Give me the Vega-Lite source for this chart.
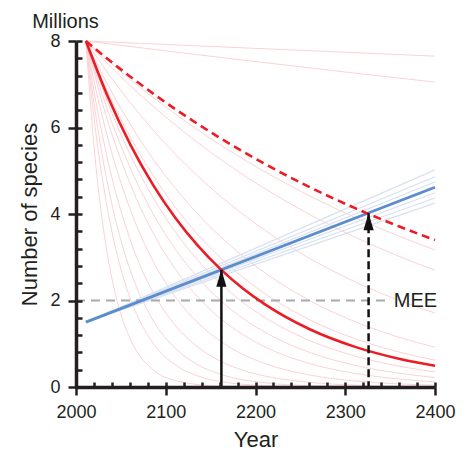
{
  "$schema": "https://vega.github.io/schema/vega-lite/v6.json",
  "width": 359,
  "height": 346,
  "autosize": "none",
  "padding": {"left": 76, "top": 41, "right": 33, "bottom": 64},
  "background": "white",
  "datasets": {
    "curves": [
      {"g":"pink","s":"p1","x":2011,"y":8},{"g":"pink","s":"p1","x":2211,"y":7.82},{"g":"pink","s":"p1","x":2400,"y":7.65},
      {"g":"pink","s":"p2","x":2011,"y":8},{"g":"pink","s":"p2","x":2111,"y":7.744},{"g":"pink","s":"p2","x":2211,"y":7.497},{"g":"pink","s":"p2","x":2311,"y":7.257},{"g":"pink","s":"p2","x":2400,"y":7.05},
      {"g":"pink","s":"p3","x":2011,"y":8},{"g":"pink","s":"p3","x":2036,"y":7.538},{"g":"pink","s":"p3","x":2061,"y":7.102},{"g":"pink","s":"p3","x":2086,"y":6.692},{"g":"pink","s":"p3","x":2111,"y":6.306},{"g":"pink","s":"p3","x":2136,"y":5.941},{"g":"pink","s":"p3","x":2161,"y":5.598},{"g":"pink","s":"p3","x":2186,"y":5.275},{"g":"pink","s":"p3","x":2211,"y":4.97},{"g":"pink","s":"p3","x":2261,"y":4.413},{"g":"pink","s":"p3","x":2311,"y":3.918},{"g":"pink","s":"p3","x":2361,"y":3.478},{"g":"pink","s":"p3","x":2400,"y":3.17},
      {"g":"pink","s":"p4","x":2011,"y":8},{"g":"pink","s":"p4","x":2036,"y":7.461},{"g":"pink","s":"p4","x":2061,"y":6.958},{"g":"pink","s":"p4","x":2086,"y":6.49},{"g":"pink","s":"p4","x":2111,"y":6.052},{"g":"pink","s":"p4","x":2136,"y":5.645},{"g":"pink","s":"p4","x":2161,"y":5.264},{"g":"pink","s":"p4","x":2186,"y":4.91},{"g":"pink","s":"p4","x":2211,"y":4.579},{"g":"pink","s":"p4","x":2261,"y":3.983},{"g":"pink","s":"p4","x":2311,"y":3.464},{"g":"pink","s":"p4","x":2361,"y":3.013},{"g":"pink","s":"p4","x":2400,"y":2.7},
      {"g":"pink","s":"p5","x":2011,"y":8},{"g":"pink","s":"p5","x":2036,"y":7.244},{"g":"pink","s":"p5","x":2061,"y":6.56},{"g":"pink","s":"p5","x":2086,"y":5.94},{"g":"pink","s":"p5","x":2111,"y":5.379},{"g":"pink","s":"p5","x":2136,"y":4.87},{"g":"pink","s":"p5","x":2161,"y":4.41},{"g":"pink","s":"p5","x":2186,"y":3.993},{"g":"pink","s":"p5","x":2211,"y":3.616},{"g":"pink","s":"p5","x":2261,"y":2.965},{"g":"pink","s":"p5","x":2311,"y":2.431},{"g":"pink","s":"p5","x":2361,"y":1.993},{"g":"pink","s":"p5","x":2400,"y":1.71},
      {"g":"pink","s":"p6","x":2011,"y":8},{"g":"pink","s":"p6","x":2036,"y":6.962},{"g":"pink","s":"p6","x":2061,"y":6.058},{"g":"pink","s":"p6","x":2086,"y":5.272},{"g":"pink","s":"p6","x":2111,"y":4.588},{"g":"pink","s":"p6","x":2136,"y":3.993},{"g":"pink","s":"p6","x":2161,"y":3.474},{"g":"pink","s":"p6","x":2186,"y":3.024},{"g":"pink","s":"p6","x":2211,"y":2.631},{"g":"pink","s":"p6","x":2261,"y":1.993},{"g":"pink","s":"p6","x":2311,"y":1.509},{"g":"pink","s":"p6","x":2361,"y":1.143},{"g":"pink","s":"p6","x":2400,"y":0.92},
      {"g":"pink","s":"p7","x":2011,"y":8},{"g":"pink","s":"p7","x":2036,"y":6.788},{"g":"pink","s":"p7","x":2061,"y":5.76},{"g":"pink","s":"p7","x":2086,"y":4.887},{"g":"pink","s":"p7","x":2111,"y":4.147},{"g":"pink","s":"p7","x":2136,"y":3.519},{"g":"pink","s":"p7","x":2161,"y":2.986},{"g":"pink","s":"p7","x":2186,"y":2.534},{"g":"pink","s":"p7","x":2211,"y":2.15},{"g":"pink","s":"p7","x":2261,"y":1.548},{"g":"pink","s":"p7","x":2311,"y":1.115},{"g":"pink","s":"p7","x":2361,"y":0.802},{"g":"pink","s":"p7","x":2400,"y":0.62},
      {"g":"pink","s":"p8","x":2011,"y":8},{"g":"pink","s":"p8","x":2036,"y":6.542},{"g":"pink","s":"p8","x":2061,"y":5.349},{"g":"pink","s":"p8","x":2086,"y":4.374},{"g":"pink","s":"p8","x":2111,"y":3.577},{"g":"pink","s":"p8","x":2136,"y":2.925},{"g":"pink","s":"p8","x":2161,"y":2.392},{"g":"pink","s":"p8","x":2186,"y":1.956},{"g":"pink","s":"p8","x":2211,"y":1.599},{"g":"pink","s":"p8","x":2261,"y":1.069},{"g":"pink","s":"p8","x":2311,"y":0.715},{"g":"pink","s":"p8","x":2361,"y":0.478},{"g":"pink","s":"p8","x":2400,"y":0.35},
      {"g":"pink","s":"p9","x":2011,"y":8},{"g":"pink","s":"p9","x":2036,"y":6.35},{"g":"pink","s":"p9","x":2061,"y":5.04},{"g":"pink","s":"p9","x":2086,"y":4.001},{"g":"pink","s":"p9","x":2111,"y":3.175},{"g":"pink","s":"p9","x":2136,"y":2.521},{"g":"pink","s":"p9","x":2161,"y":2.001},{"g":"pink","s":"p9","x":2186,"y":1.588},{"g":"pink","s":"p9","x":2211,"y":1.261},{"g":"pink","s":"p9","x":2261,"y":0.794},{"g":"pink","s":"p9","x":2311,"y":0.5},{"g":"pink","s":"p9","x":2361,"y":0.315},{"g":"pink","s":"p9","x":2400,"y":0.22},
      {"g":"pink","s":"p10","x":2011,"y":8},{"g":"pink","s":"p10","x":2036,"y":6.107},{"g":"pink","s":"p10","x":2061,"y":4.662},{"g":"pink","s":"p10","x":2086,"y":3.559},{"g":"pink","s":"p10","x":2111,"y":2.717},{"g":"pink","s":"p10","x":2136,"y":2.074},{"g":"pink","s":"p10","x":2161,"y":1.583},{"g":"pink","s":"p10","x":2186,"y":1.209},{"g":"pink","s":"p10","x":2211,"y":0.922},{"g":"pink","s":"p10","x":2261,"y":0.538},{"g":"pink","s":"p10","x":2311,"y":0.313},{"g":"pink","s":"p10","x":2361,"y":0.183},{"g":"pink","s":"p10","x":2400,"y":0.12},
      {"g":"pink","s":"p11","x":2011,"y":8},{"g":"pink","s":"p11","x":2021,"y":6.99},{"g":"pink","s":"p11","x":2036,"y":5.709},{"g":"pink","s":"p11","x":2061,"y":4.073},{"g":"pink","s":"p11","x":2086,"y":2.906},{"g":"pink","s":"p11","x":2111,"y":2.074},{"g":"pink","s":"p11","x":2136,"y":1.48},{"g":"pink","s":"p11","x":2161,"y":1.056},{"g":"pink","s":"p11","x":2186,"y":0.753},{"g":"pink","s":"p11","x":2211,"y":0.538},{"g":"pink","s":"p11","x":2261,"y":0.274},{"g":"pink","s":"p11","x":2311,"y":0.139},{"g":"pink","s":"p11","x":2361,"y":0.071},{"g":"pink","s":"p11","x":2400,"y":0.042},
      {"g":"pink","s":"p12","x":2011,"y":8},{"g":"pink","s":"p12","x":2021,"y":6.729},{"g":"pink","s":"p12","x":2036,"y":5.191},{"g":"pink","s":"p12","x":2061,"y":3.369},{"g":"pink","s":"p12","x":2086,"y":2.186},{"g":"pink","s":"p12","x":2111,"y":1.418},{"g":"pink","s":"p12","x":2136,"y":0.92},{"g":"pink","s":"p12","x":2161,"y":0.597},{"g":"pink","s":"p12","x":2186,"y":0.387},{"g":"pink","s":"p12","x":2211,"y":0.251},{"g":"pink","s":"p12","x":2261,"y":0.106},{"g":"pink","s":"p12","x":2311,"y":0.044},{"g":"pink","s":"p12","x":2361,"y":0.019},{"g":"pink","s":"p12","x":2400,"y":0.01},
      {"g":"pink","s":"p13","x":2011,"y":8},{"g":"pink","s":"p13","x":2021,"y":6.071},{"g":"pink","s":"p13","x":2031,"y":4.606},{"g":"pink","s":"p13","x":2041,"y":3.495},{"g":"pink","s":"p13","x":2051,"y":2.652},{"g":"pink","s":"p13","x":2061,"y":2.013},{"g":"pink","s":"p13","x":2086,"y":1.01},{"g":"pink","s":"p13","x":2111,"y":0.507},{"g":"pink","s":"p13","x":2136,"y":0.254},{"g":"pink","s":"p13","x":2161,"y":0.127},{"g":"pink","s":"p13","x":2211,"y":0.032},{"g":"pink","s":"p13","x":2261,"y":0.008},{"g":"pink","s":"p13","x":2400,"y":0},
      {"g":"pink","s":"p14","x":2011,"y":8},{"g":"pink","s":"p14","x":2021,"y":6.42},{"g":"pink","s":"p14","x":2031,"y":5.152},{"g":"pink","s":"p14","x":2041,"y":4.135},{"g":"pink","s":"p14","x":2051,"y":3.318},{"g":"pink","s":"p14","x":2061,"y":2.663},{"g":"pink","s":"p14","x":2086,"y":1.536},{"g":"pink","s":"p14","x":2111,"y":0.886},{"g":"pink","s":"p14","x":2136,"y":0.511},{"g":"pink","s":"p14","x":2161,"y":0.295},{"g":"pink","s":"p14","x":2211,"y":0.098},{"g":"pink","s":"p14","x":2261,"y":0.033},{"g":"pink","s":"p14","x":2400,"y":0.002},
      {"g":"pink","s":"p15","x":2011,"y":8},{"g":"pink","s":"p15","x":2021,"y":5.363},{"g":"pink","s":"p15","x":2031,"y":3.595},{"g":"pink","s":"p15","x":2041,"y":2.41},{"g":"pink","s":"p15","x":2051,"y":1.615},{"g":"pink","s":"p15","x":2061,"y":1.083},{"g":"pink","s":"p15","x":2086,"y":0.398},{"g":"pink","s":"p15","x":2111,"y":0.147},{"g":"pink","s":"p15","x":2161,"y":0.02},{"g":"pink","s":"p15","x":2400,"y":0},
      {"g":"blue","s":"b1","x":2011,"y":1.5},{"g":"blue","s":"b1","x":2400,"y":5.02},
      {"g":"blue","s":"b2","x":2011,"y":1.5},{"g":"blue","s":"b2","x":2400,"y":4.86},
      {"g":"blue","s":"b3","x":2011,"y":1.5},{"g":"blue","s":"b3","x":2400,"y":4.74},
      {"g":"blue","s":"b4","x":2011,"y":1.5},{"g":"blue","s":"b4","x":2400,"y":4.49},
      {"g":"blue","s":"b5","x":2011,"y":1.5},{"g":"blue","s":"b5","x":2400,"y":4.37},
      {"g":"blue","s":"b6","x":2011,"y":1.5},{"g":"blue","s":"b6","x":2400,"y":4.25},
      {"g":"blueMain","s":"b0","x":2011,"y":1.5},{"g":"blueMain","s":"b0","x":2400,"y":4.62},
      {"g":"redSolid","s":"rs","x":2011,"y":8},{"g":"redSolid","s":"rs","x":2036,"y":6.686},{"g":"redSolid","s":"rs","x":2061,"y":5.587},{"g":"redSolid","s":"rs","x":2086,"y":4.669},{"g":"redSolid","s":"rs","x":2111,"y":3.902},{"g":"redSolid","s":"rs","x":2136,"y":3.261},{"g":"redSolid","s":"rs","x":2161,"y":2.725},{"g":"redSolid","s":"rs","x":2186,"y":2.277},{"g":"redSolid","s":"rs","x":2211,"y":1.903},{"g":"redSolid","s":"rs","x":2261,"y":1.329},{"g":"redSolid","s":"rs","x":2311,"y":0.928},{"g":"redSolid","s":"rs","x":2361,"y":0.648},{"g":"redSolid","s":"rs","x":2400,"y":0.49},
      {"g":"redDashed","s":"rd","x":2011,"y":8},{"g":"redDashed","s":"rd","x":2036,"y":7.572},{"g":"redDashed","s":"rd","x":2061,"y":7.167},{"g":"redDashed","s":"rd","x":2086,"y":6.783},{"g":"redDashed","s":"rd","x":2111,"y":6.42},{"g":"redDashed","s":"rd","x":2136,"y":6.077},{"g":"redDashed","s":"rd","x":2161,"y":5.751},{"g":"redDashed","s":"rd","x":2186,"y":5.444},{"g":"redDashed","s":"rd","x":2211,"y":5.152},{"g":"redDashed","s":"rd","x":2261,"y":4.615},{"g":"redDashed","s":"rd","x":2311,"y":4.135},{"g":"redDashed","s":"rd","x":2361,"y":3.704},{"g":"redDashed","s":"rd","x":2400,"y":3.399}
    ],
    "arrows": [
      {"k":"solid","x":2162,"y":2.71},
      {"k":"dashed","x":2326,"y":4.02}
    ],
    "mee": [
      {"label":"MEE","x":2000,"x2":2351,"y":2,"tx":2354}
    ]
  },
  "resolve": {"axis": {"x": "independent", "y": "independent"}},
  "layer": [
    {
      "data": {"name": "curves"},
      "transform": [{"filter": "datum.g === 'pink'"}],
      "mark": {"type": "line", "interpolate": "monotone", "stroke": "#fad3d6", "strokeWidth": 1},
      "encoding": {
        "x": {"field": "x", "type": "quantitative", "scale": {"domain": [2000, 2400], "nice": false, "zero": false},
          "axis": {"title": "Year", "values": [2000, 2100, 2200, 2300, 2400], "format": "d", "orient": "bottom", "tickSize": 8, "tickWidth": 2.5, "domainWidth": 3.5, "labelFontSize": 18, "labelPadding": 8, "titleFontSize": 22, "titlePadding": 8, "zindex": 1, "labelFlush": false}},
        "y": {"field": "y", "type": "quantitative", "scale": {"domain": [0, 8], "nice": false, "zero": true},
          "axis": {"title": "Number of species", "values": [0, 2, 4, 6, 8], "orient": "left", "tickSize": 8, "tickWidth": 2.5, "domainWidth": 3.5, "labelFontSize": 18, "labelPadding": 8, "titleFontSize": 22, "titlePadding": 8, "zindex": 1, "labelFlush": false}},
        "detail": {"field": "s"}
      }
    },
    {
      "data": {"name": "curves"},
      "transform": [{"filter": "datum.g === 'blue'"}],
      "mark": {"type": "line", "stroke": "#d8e1f1", "strokeWidth": 1.2},
      "encoding": {
        "x": {"field": "x", "type": "quantitative", "scale": {"domain": [2000, 2400], "nice": false, "zero": false},
          "axis": {"title": null, "orient": "bottom", "values": [2000, 2020, 2040, 2060, 2080, 2100, 2120, 2140, 2160, 2180, 2200, 2220, 2240, 2260, 2280, 2300, 2320, 2340, 2360, 2380, 2400], "tickSize": -5, "tickWidth": 2.5, "labels": false, "domain": false, "zindex": 1}},
        "y": {"field": "y", "type": "quantitative", "scale": {"domain": [0, 8], "nice": false},
          "axis": {"title": "Millions", "orient": "left", "values": [0, 0.4, 0.8, 1.2, 1.6, 2, 2.4, 2.8, 3.2, 3.6, 4, 4.4, 4.8, 5.2, 5.6, 6, 6.4, 6.8, 7.2, 7.6, 8], "tickSize": -6, "tickWidth": 2.5, "labels": false, "domain": false, "zindex": 1, "titleAngle": 0, "titleX": -11, "titleY": -14, "titleAlign": "center", "titleBaseline": "alphabetic", "titleFontSize": 20}},
        "detail": {"field": "s"}
      }
    },
    {
      "data": {"name": "mee"},
      "mark": {"type": "rule", "stroke": "#a7a9ac", "strokeWidth": 2.2, "strokeDash": [9, 6]},
      "encoding": {
        "x": {"field": "x", "type": "quantitative", "scale": {"domain": [2000, 2400], "nice": false, "zero": false}, "axis": null},
        "x2": {"field": "x2"},
        "y": {"field": "y", "type": "quantitative", "scale": {"domain": [0, 8], "nice": false}, "axis": null}
      }
    },
    {
      "data": {"name": "mee"},
      "mark": {"type": "text", "align": "left", "baseline": "middle", "fontSize": 20, "font": "Liberation Sans", "color": "#231f20"},
      "encoding": {
        "x": {"field": "tx", "type": "quantitative", "scale": {"domain": [2000, 2400], "nice": false, "zero": false}, "axis": null},
        "y": {"field": "y", "type": "quantitative", "scale": {"domain": [0, 8], "nice": false}, "axis": null},
        "text": {"field": "label"}
      }
    },
    {
      "data": {"name": "curves"},
      "transform": [{"filter": "datum.g === 'blueMain'"}],
      "mark": {"type": "line", "stroke": "#5b8dcc", "strokeWidth": 2.8},
      "encoding": {
        "x": {"field": "x", "type": "quantitative", "scale": {"domain": [2000, 2400], "nice": false, "zero": false}, "axis": null},
        "y": {"field": "y", "type": "quantitative", "scale": {"domain": [0, 8], "nice": false}, "axis": null}
      }
    },
    {
      "data": {"name": "curves"},
      "transform": [{"filter": "datum.g === 'redSolid'"}],
      "mark": {"type": "line", "interpolate": "monotone", "stroke": "#ed1c24", "strokeWidth": 2.6},
      "encoding": {
        "x": {"field": "x", "type": "quantitative", "scale": {"domain": [2000, 2400], "nice": false, "zero": false}, "axis": null},
        "y": {"field": "y", "type": "quantitative", "scale": {"domain": [0, 8], "nice": false}, "axis": null}
      }
    },
    {
      "data": {"name": "curves"},
      "transform": [{"filter": "datum.g === 'redDashed'"}],
      "mark": {"type": "line", "interpolate": "monotone", "stroke": "#ed1c24", "strokeWidth": 2.6, "strokeDash": [8, 5]},
      "encoding": {
        "x": {"field": "x", "type": "quantitative", "scale": {"domain": [2000, 2400], "nice": false, "zero": false}, "axis": null},
        "y": {"field": "y", "type": "quantitative", "scale": {"domain": [0, 8], "nice": false}, "axis": null}
      }
    },
    {
      "data": {"name": "arrows"},
      "transform": [{"filter": "datum.k === 'solid'"}],
      "mark": {"type": "rule", "stroke": "#111111", "strokeWidth": 2.5},
      "encoding": {
        "x": {"field": "x", "type": "quantitative", "scale": {"domain": [2000, 2400], "nice": false, "zero": false}, "axis": null},
        "y": {"field": "y", "type": "quantitative", "scale": {"domain": [0, 8], "nice": false}, "axis": null},
        "y2": {"datum": 0}
      }
    },
    {
      "data": {"name": "arrows"},
      "transform": [{"filter": "datum.k === 'dashed'"}],
      "mark": {"type": "rule", "stroke": "#111111", "strokeWidth": 2.5, "strokeDash": [8, 4]},
      "encoding": {
        "x": {"field": "x", "type": "quantitative", "scale": {"domain": [2000, 2400], "nice": false, "zero": false}, "axis": null},
        "y": {"field": "y", "type": "quantitative", "scale": {"domain": [0, 8], "nice": false}, "axis": null},
        "y2": {"datum": 0}
      }
    },
    {
      "data": {"name": "arrows"},
      "mark": {"type": "point", "shape": "M0,0L-0.3,1L0.3,1Z", "size": 1156, "filled": true, "fill": "#111111", "strokeWidth": 0, "opacity": 1},
      "encoding": {
        "x": {"field": "x", "type": "quantitative", "scale": {"domain": [2000, 2400], "nice": false, "zero": false}, "axis": null},
        "y": {"field": "y", "type": "quantitative", "scale": {"domain": [0, 8], "nice": false}, "axis": null}
      }
    }
  ],
  "config": {
    "view": {"stroke": null},
    "font": "Liberation Sans",
    "axis": {
      "grid": false,
      "labelFont": "Liberation Sans",
      "titleFont": "Liberation Sans",
      "labelColor": "#231f20",
      "titleColor": "#231f20",
      "tickColor": "#231f20",
      "domainColor": "#231f20",
      "titleFontWeight": "normal",
      "tickCap": "butt"
    }
  }
}
